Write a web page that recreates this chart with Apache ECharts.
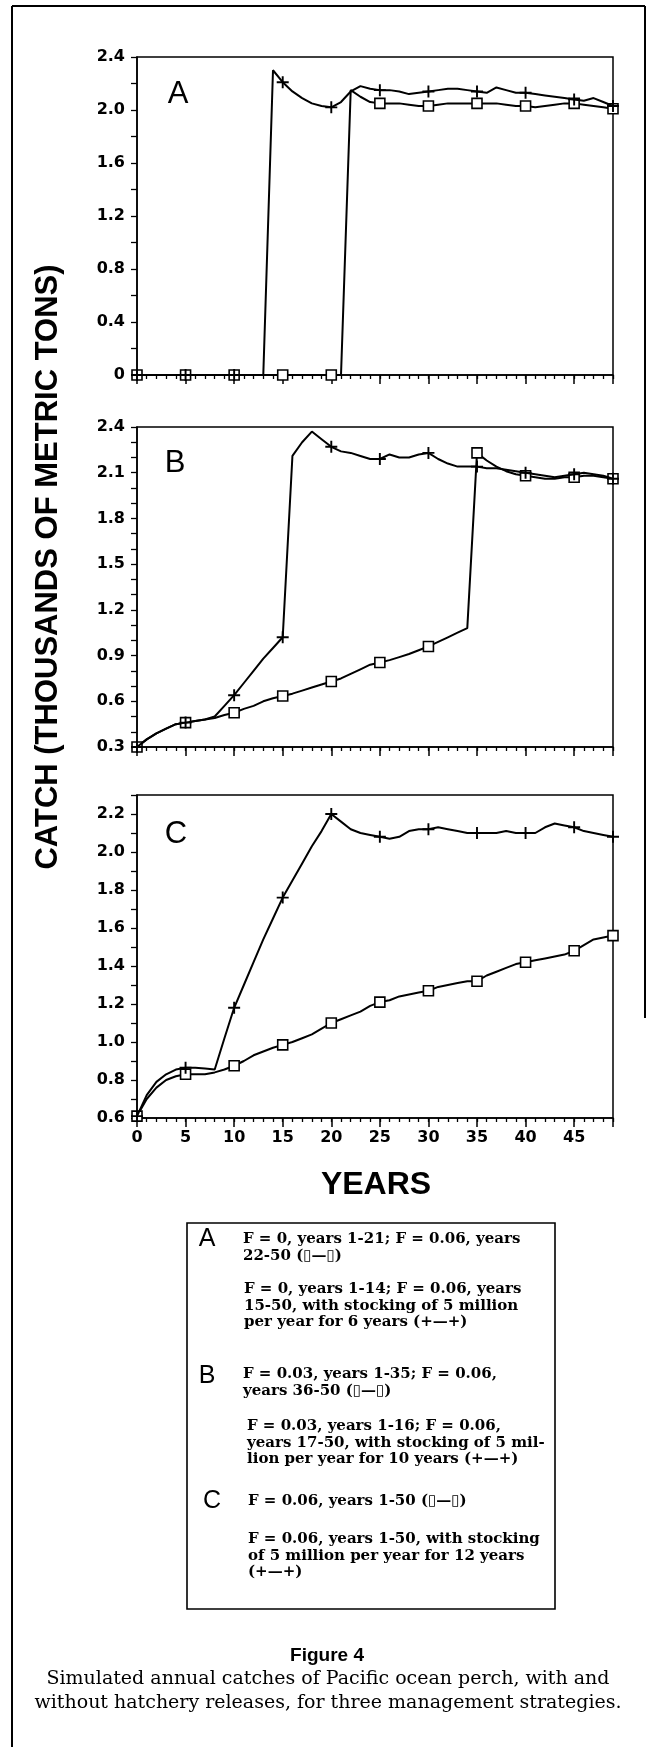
<!DOCTYPE html>
<html>
<head>
<meta charset="utf-8">
<script src="https://cdn.jsdelivr.net/npm/echarts@6/dist/echarts.min.js"></script>
<style>
html,body{margin:0;padding:0;background:#fff;}
#chart{width:650px;height:1747px;}
</style>
</head>
<body>
<div id="chart"></div>
<script>
// ---- data (year index 0..49) ----
var years = [];
for (var i = 0; i < 50; i++) years.push(i);
var markerYears = [0, 5, 10, 15, 20, 25, 30, 35, 40, 45, 49];

// Panel A
var aSquare = [0,0,0,0,0,0,0,0,0,0, 0,0,0,0,0,0,0,0,0,0, 0,0,
  2.15, 2.10, 2.06, 2.05, 2.05, 2.05, 2.04, 2.03, 2.03, 2.04, 2.05, 2.05, 2.05, 2.05,
  2.05, 2.05, 2.04, 2.03, 2.03, 2.02, 2.03, 2.04, 2.05, 2.05, 2.04, 2.03, 2.02, 2.01];
var aPlus = [0,0,0,0,0,0,0,0,0,0, 0,0,0,0,
  2.30, 2.21, 2.14, 2.09, 2.05, 2.03, 2.02, 2.06, 2.14, 2.18,
  2.16, 2.15, 2.15, 2.14, 2.12, 2.13, 2.14, 2.15, 2.16, 2.16,
  2.15, 2.14, 2.13, 2.17, 2.15, 2.13, 2.13, 2.12, 2.11, 2.10,
  2.09, 2.08, 2.07, 2.09, 2.06, 2.03];
// Panel B
var bSquare = [0.30, 0.35, 0.39, 0.42, 0.45, 0.46, 0.47, 0.48, 0.49, 0.51,
  0.525, 0.55, 0.57, 0.60, 0.62, 0.635, 0.65, 0.67, 0.69, 0.71,
  0.73, 0.75, 0.78, 0.81, 0.84, 0.855, 0.87, 0.89, 0.91, 0.935,
  0.96, 0.99, 1.02, 1.05, 1.08, 2.23, 2.18, 2.14, 2.11, 2.09,
  2.08, 2.07, 2.06, 2.06, 2.07, 2.07, 2.08, 2.08, 2.07, 2.06];
var bPlus = [0.30, 0.35, 0.39, 0.42, 0.45, 0.46, 0.47, 0.48, 0.50, 0.57,
  0.64, 0.72, 0.80, 0.88, 0.95, 1.02, 2.21, 2.30, 2.37, 2.32,
  2.27, 2.24, 2.23, 2.21, 2.19, 2.19, 2.22, 2.20, 2.20, 2.22,
  2.23, 2.19, 2.16, 2.14, 2.14, 2.14, 2.13, 2.13, 2.12, 2.11,
  2.10, 2.09, 2.08, 2.07, 2.08, 2.09, 2.10, 2.09, 2.08, 2.06];
// Panel C
var cSquare = [0.61, 0.70, 0.76, 0.80, 0.82, 0.83, 0.83, 0.83, 0.84, 0.855,
  0.875, 0.90, 0.93, 0.95, 0.97, 0.985, 1.00, 1.02, 1.04, 1.07,
  1.10, 1.12, 1.14, 1.16, 1.19, 1.21, 1.22, 1.24, 1.25, 1.26,
  1.27, 1.29, 1.30, 1.31, 1.32, 1.32, 1.35, 1.37, 1.39, 1.41,
  1.42, 1.43, 1.44, 1.45, 1.46, 1.48, 1.51, 1.54, 1.55, 1.56];
var cPlus = [0.61, 0.72, 0.79, 0.83, 0.855, 0.865, 0.865, 0.86, 0.855, 1.02,
  1.18, 1.30, 1.42, 1.54, 1.65, 1.76, 1.85, 1.94, 2.03, 2.11,
  2.20, 2.16, 2.12, 2.10, 2.09, 2.08, 2.07, 2.08, 2.11, 2.12,
  2.12, 2.13, 2.12, 2.11, 2.10, 2.10, 2.10, 2.10, 2.11, 2.10,
  2.10, 2.10, 2.13, 2.15, 2.14, 2.13, 2.11, 2.10, 2.09, 2.08];

// y-axis setups
var yA = {min: 0, max: 2.4, step: 0.2, labelEvery: 4};
var yB = {min: 0.3, max: 2.4, step: 0.1, labelEvery: 3};
var yC = {min: 0.6, max: 2.3, step: 0.1, labelEvery: 2};

var panelLetters = ['A', 'B', 'C'];
var yTitle = 'CATCH (THOUSANDS OF METRIC TONS)';
var xTitle = 'YEARS';
var legendTexts = [
  'F = 0, years 1-21; F = 0.06, years\n22-50 (\u25AF\u2014\u25AF)',
  'F = 0, years 1-14; F = 0.06, years\n15-50, with stocking of 5 million\nper year for 6 years (+\u2014+)',
  'F = 0.03, years 1-35; F = 0.06,\nyears 36-50 (\u25AF\u2014\u25AF)',
  'F = 0.03, years 1-16; F = 0.06,\nyears 17-50, with stocking of 5 mil-\nlion per year for 10 years (+\u2014+)',
  'F = 0.06, years 1-50 (\u25AF\u2014\u25AF)',
  'F = 0.06, years 1-50, with stocking\nof 5 million per year for 12 years\n(+\u2014+)'
];
var figTitle = 'Figure 4';
var caption = 'Simulated annual catches of Pacific ocean perch, with and\nwithout hatchery releases, for three management strategies.';

// ---- layout ----
var grids = [
  {left: 137, top: 57, width: 476, height: 318},
  {left: 137, top: 427, width: 476, height: 320},
  {left: 137, top: 795, width: 476, height: 323}
];
var plusPath = 'path://M4.2,0H5.8V4.2H10V5.8H5.8V10H4.2V5.8H0V4.2H4.2Z';

function pairs(arr) { return years.map(function (y, i) { return [y, arr[i]]; }); }
function markSize(size) {
  return function (val) { return markerYears.indexOf(val[0]) >= 0 ? size : 0; };
}

var option = {
  backgroundColor: '#fff',
  animation: false,
  grid: grids.map(function (g) {
    return {left: g.left, top: g.top, width: g.width, height: g.height,
      show: true, borderColor: '#000', borderWidth: 1.5, backgroundColor: 'transparent'};
  }),
  xAxis: [],
  yAxis: [],
  series: [],
  graphic: []
};

var ySets = [yA, yB, yC];
var dataSets = [[aSquare, aPlus], [bSquare, bPlus], [cSquare, cPlus]];

for (var g = 0; g < 3; g++) {
  option.xAxis.push({
    type: 'value', gridIndex: g, position: 'bottom', min: 0, max: 49, interval: 1,
    axisLine: {show: true, onZero: false, lineStyle: {color: '#000', width: 1.5}},
    axisTick: {show: true, length: 4, lineStyle: {color: '#000', width: 1.3}},
    axisLabel: {show: false},
    splitLine: {show: false}
  });
  option.xAxis.push({
    type: 'value', gridIndex: g, position: 'bottom', offset: 0, min: 0, max: 49, interval: 5,
    axisLine: {show: false, onZero: false},
    axisTick: {show: true, length: 9, lineStyle: {color: '#000', width: 1.5}},
    axisLabel: {
      show: g === 2, margin: 12, color: '#000', fontFamily: 'DejaVu Sans', fontWeight: 'bold', fontSize: 16,
      formatter: function (v) { return v === 49 ? '' : String(v); }
    },
    splitLine: {show: false}
  });
  (function (ys) {
    option.yAxis.push({
      type: 'value', gridIndex: g, position: 'left', min: ys.min, max: ys.max, interval: ys.step,
      axisLine: {show: true, onZero: false, lineStyle: {color: '#000', width: 1.5}},
      axisTick: {show: true, length: 6, lineStyle: {color: '#000', width: 1.3}},
      axisLabel: {
        margin: 12, color: '#000', fontFamily: 'DejaVu Sans', fontWeight: 'bold', fontSize: 16,
        formatter: function (v) {
          var k = Math.round(v * 10);
          if (k % ys.labelEvery !== 0) return '';
          if (k === 0) return '0';
          return (k / 10).toFixed(1);
        }
      },
      splitLine: {show: false}
    });
  })(ySets[g]);

  option.series.push({
    type: 'line', xAxisIndex: g * 2, yAxisIndex: g,
    data: pairs(dataSets[g][0]),
    symbol: 'rect', symbolSize: markSize(10), showAllSymbol: true,
    lineStyle: {color: '#000', width: 2},
    itemStyle: {color: '#fff', borderColor: '#000', borderWidth: 1.6},
    emphasis: {disabled: true}, z: 3
  });
  option.series.push({
    type: 'line', xAxisIndex: g * 2, yAxisIndex: g,
    data: pairs(dataSets[g][1]),
    symbol: plusPath, symbolSize: markSize(12), showAllSymbol: true,
    lineStyle: {color: '#000', width: 2},
    itemStyle: {color: '#000', borderWidth: 0},
    emphasis: {disabled: true}, z: 4
  });
}

// outer frame
option.graphic.push(
  {type: 'line', shape: {x1: 12, y1: 6, x2: 645, y2: 6}, style: {stroke: '#000', lineWidth: 2}},
  {type: 'line', shape: {x1: 12, y1: 6, x2: 12, y2: 1747}, style: {stroke: '#000', lineWidth: 2}},
  {type: 'line', shape: {x1: 645, y1: 6, x2: 645, y2: 1018}, style: {stroke: '#000', lineWidth: 2}}
);
// panel letters
var letterPos = [[178, 94], [175, 463], [176, 834]];
panelLetters.forEach(function (L, i) {
  option.graphic.push({type: 'text', x: letterPos[i][0], y: letterPos[i][1],
    style: {text: L, fontSize: 31, fontFamily: 'Liberation Sans', fill: '#000', textAlign: 'center', textVerticalAlign: 'middle'}});
});
// axis titles
option.graphic.push({type: 'text', x: 48, y: 567, rotation: Math.PI / 2,
  style: {text: yTitle, fontSize: 31, fontFamily: 'Liberation Sans', fontWeight: 'bold', fill: '#000', textAlign: 'center', textVerticalAlign: 'middle'}});
option.graphic.push({type: 'text', x: 376, y: 1185,
  style: {text: xTitle, fontSize: 32, fontFamily: 'Liberation Sans', fontWeight: 'bold', fill: '#000', textAlign: 'center', textVerticalAlign: 'middle'}});

// legend box
option.graphic.push({type: 'rect', shape: {x: 187, y: 1223, width: 368, height: 386},
  style: {fill: 'none', stroke: '#000', lineWidth: 1.6}});
var legLetterPos = [[207, 1239], [207, 1376], [212, 1501]];
panelLetters.forEach(function (L, i) {
  option.graphic.push({type: 'text', x: legLetterPos[i][0], y: legLetterPos[i][1],
    style: {text: L, fontSize: 25, fontFamily: 'Liberation Sans', fill: '#000', textAlign: 'center', textVerticalAlign: 'middle'}});
});
var legTextPos = [[243, 1231], [244, 1281], [243, 1366], [247, 1418], [248, 1493], [248, 1531]];
legendTexts.forEach(function (t, i) {
  option.graphic.push({type: 'text', x: legTextPos[i][0], y: legTextPos[i][1],
    style: {text: t, fontSize: 15, lineHeight: 16.5, fontFamily: 'DejaVu Serif', fontWeight: 'bold', fill: '#000', textAlign: 'left', textVerticalAlign: 'top'}});
});
// caption
option.graphic.push({type: 'text', x: 327, y: 1656,
  style: {text: figTitle, fontSize: 19, fontFamily: 'Liberation Sans', fontWeight: 'bold', fill: '#000', textAlign: 'center', textVerticalAlign: 'middle'}});
option.graphic.push({type: 'text', x: 328, y: 1667,
  style: {text: caption, fontSize: 19, lineHeight: 24, fontFamily: 'DejaVu Serif', fill: '#000', textAlign: 'center', textVerticalAlign: 'top'}});

var chart = echarts.init(document.getElementById('chart'), null, {width: 650, height: 1747});
chart.setOption(option);
</script>
</body>
</html>
